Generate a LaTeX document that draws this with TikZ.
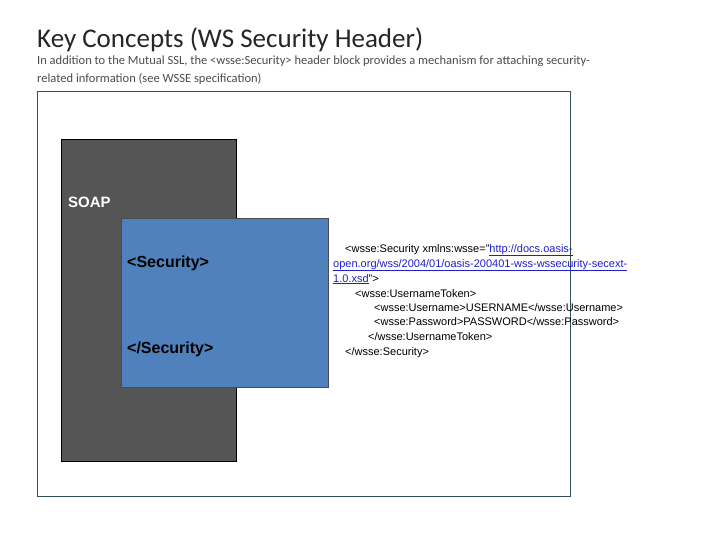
\documentclass[tikz,border=0pt]{standalone}
\usepackage{fontspec}
\setmainfont{Liberation Sans}
\newfontfamily\carl{Carlito}
\definecolor{lnk}{HTML}{1F1FCC}
\definecolor{blu}{HTML}{4F81BD}
\begin{document}
\begin{tikzpicture}[x=1pt,y=-1pt,
  code/.style={anchor=base west,inner sep=0,font=\fontsize{11}{13}\selectfont},
  tag/.style={anchor=base west,inner sep=0,font=\bfseries\fontsize{16}{18}\selectfont}]
\useasboundingbox (0,0) rectangle (728,546);
\fill[white] (0,0) rectangle (728,546);
\node[anchor=base west,inner sep=0,font=\carl\fontsize{27}{30}\selectfont,text=black!85] (title) at (37,47) {Key Concepts (WS Security Header)};
\node[anchor=base west,inner sep=0,font=\carl\fontsize{12.5}{15}\selectfont,text=black!70] (sub1) at (37,64) {In addition to the Mutual SSL, the <wsse:Security> header block provides a mechanism for attaching security-};
\node[anchor=base west,inner sep=0,font=\carl\fontsize{12.5}{15}\selectfont,text=black!70] (sub2) at (37,82) {related information (see WSSE specification)};
\draw[draw={rgb,255:red,50;green,80;blue,90},line width=0.7] (37,91) rectangle (570,496);
\draw[fill={rgb,255:red,85;green,85;blue,85},draw=black,line width=0.7] (61,139) rectangle (236,461);
\node[anchor=base west,inner sep=0,text=white,font=\bfseries\fontsize{15}{17}\selectfont] (soap) at (68,207) {SOAP};
\draw[fill=blu,draw=black!70,line width=0.7] (121,218) rectangle (328,387);
\node[tag] (s1) at (127,267) {<Security>};
\node[tag] (s2) at (127,353) {</Security>};
\node[code] (c1) at (345,252) {<wsse:Security xmlns:wsse="\textcolor{lnk}{\underline{http://docs.oasis-}}};
\node[code] (c2) at (333,267) {\textcolor{lnk}{\underline{open.org/wss/2004/01/oasis-200401-wss-wssecurity-secext-}}};
\node[code] (c3) at (333,282) {\textcolor{lnk}{\underline{1.0.xsd}}">};
\node[code] (c4) at (355,297) {<wsse:UsernameToken>};
\node[code] (c5) at (374,311) {<wsse:Username>USERNAME</wsse:Username>};
\node[code] (c6) at (374,325) {<wsse:Password>PASSWORD</wsse:Password>};
\node[code] (c7) at (368,340) {</wsse:UsernameToken>};
\node[code] (c8) at (345,355) {</wsse:Security>};
\end{tikzpicture}
\end{document}
